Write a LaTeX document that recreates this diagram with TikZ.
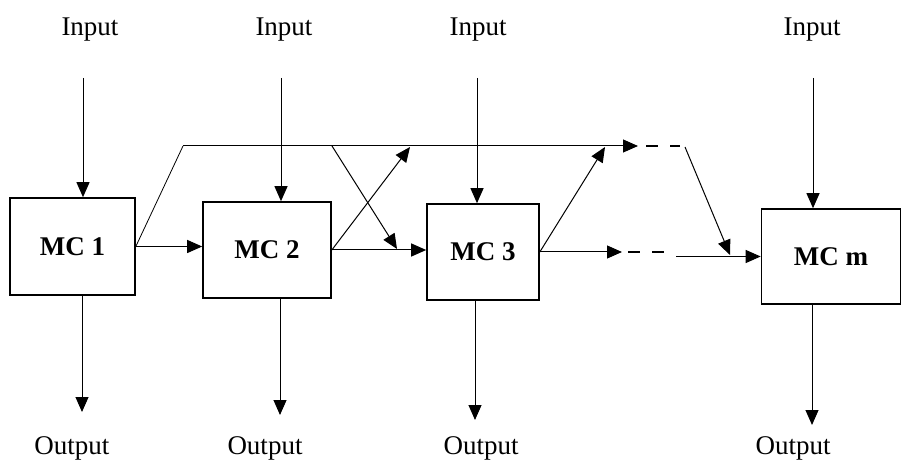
\documentclass[tikz,border=0pt]{standalone}
\usepackage{fontspec}
\setmainfont{Liberation Serif}
\usetikzlibrary{arrows.meta, positioning, calc}
\tikzstyle{mcbox} = [rectangle, draw, line width=0.8pt, inner sep=0pt, font=\fontsize{13.5}{15}\selectfont\bfseries]
\tikzstyle{iolabel} = [font=\fontsize{13.5}{15}\selectfont, inner sep=0pt]
\tikzstyle{arrow} = [-{Triangle[length=7.5pt, width=6.5pt]}, line width=0.5pt]
\tikzstyle{dashline} = [dash pattern=on 6pt off 6pt, line width=0.9pt]

\begin{document}
\begin{tikzpicture}[x=0.5pt, y=-0.5pt]
    \useasboundingbox (0,0) rectangle (903,475);

    % Blocks
    \node[mcbox, minimum width=62.5pt, minimum height=48.5pt] (mc1) at (72.5,246.5) {MC 1};
    \node[mcbox, minimum width=64pt, minimum height=48pt] (mc2) at (267,250) {MC 2};
    \node[mcbox, minimum width=56pt, minimum height=48pt] (mc3) at (483,252) {MC 3};
    \node[mcbox, minimum width=69.5pt, minimum height=47.5pt] (mcm) at (831,256.5) {MC m};

    % Inputs
    \node[iolabel] (in1) at (90,30) {Input};
    \node[iolabel] (in2) at (284,30) {Input};
    \node[iolabel] (in3) at (478,30) {Input};
    \node[iolabel] (inm) at (812,30) {Input};
    \coordinate (in1s) at (83,78);
    \coordinate (in2s) at (281,78);
    \coordinate (in3s) at (477,78);
    \coordinate (inms) at (813,78);
    \draw[arrow] (in1s) -- (in1s |- mc1.north);
    \draw[arrow] (in2s) -- (in2s |- mc2.north);
    \draw[arrow] (in3s) -- (in3s |- mc3.north);
    \draw[arrow] (inms) -- (inms |- mcm.north);

    % Outputs
    \coordinate (out1e) at (82,412);
    \coordinate (out2e) at (280,415);
    \coordinate (out3e) at (475,420);
    \coordinate (outme) at (812,425);
    \draw[arrow] (out1e |- mc1.south) -- (out1e);
    \draw[arrow] (out2e |- mc2.south) -- (out2e);
    \draw[arrow] (out3e |- mc3.south) -- (out3e);
    \draw[arrow] (outme |- mcm.south) -- (outme);
    \node[iolabel] (out1) at (72,448) {Output};
    \node[iolabel] (out2) at (265,448) {Output};
    \node[iolabel] (out3) at (481,448) {Output};
    \node[iolabel] (outm) at (793,448) {Output};

    % Upper path
    \coordinate (bus-a) at (183,146);
    \coordinate (bus-b) at (638,146);
    \coordinate (bus-c) at (646,146);
    \coordinate (bus-d) at (680,146);
    \coordinate (bus-e) at (685,147);
    \coordinate (low-m) at (730,255);
    \draw (mc1.east) -- (bus-a);
    \draw[arrow] (bus-a) -- (bus-b);
    \draw[dashline] (bus-c) -- (bus-d);
    \draw[arrow] (bus-e) -- (low-m);

    % Direct links
    \draw[arrow] (mc1.east) -- (mc1.east -| mc2.west);
    \draw[arrow] (mc2.east) -- (mc2.east -| mc3.west);

    % Crossing links
    \coordinate (x-top) at (332,146);
    \coordinate (x-low) at (397,249);
    \coordinate (x-up) at (410,147);
    \draw[arrow] (x-top) -- (x-low);
    \draw[arrow] (mc2.east) -- (x-up);

    % MC 3 onwards
    \coordinate (up3) at (605,147);
    \coordinate (low-a) at (622,252);
    \coordinate (low-b) at (628,252);
    \coordinate (low-c) at (672,252);
    \coordinate (low-d) at (676,256.5);
    \draw[arrow] (mc3.east) -- (up3);
    \draw[arrow] (mc3.east) -- (low-a);
    \draw[dashline] (low-b) -- (low-c);
    \draw[arrow] (low-d) -- (low-d -| mcm.west);
\end{tikzpicture}
\end{document}
